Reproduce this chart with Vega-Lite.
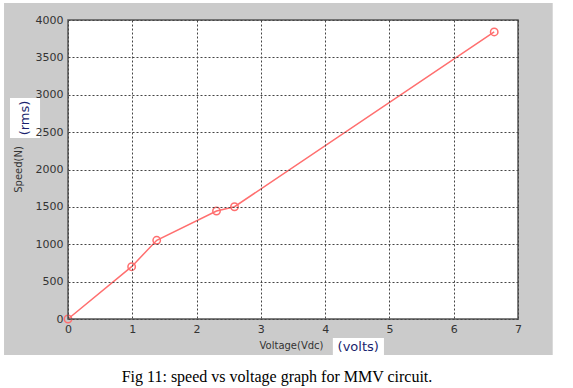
{
  "$schema": "https://vega.github.io/schema/vega-lite/v6.json",
  "width": 450,
  "height": 299,
  "autosize": {"type": "none"},
  "padding": {"left": 68, "top": 20, "right": 55, "bottom": 69},
  "background": "white",
  "title": {
    "text": "Fig 11: speed vs voltage graph for MMV circuit.",
    "orient": "bottom",
    "anchor": "middle",
    "font": "Liberation Serif",
    "fontSize": 16,
    "fontWeight": "normal",
    "color": "#000000",
    "offset": 14,
    "dx": -16
  },
  "config": {
    "view": {"stroke": null},
    "axis": {
      "ticks": false,
      "domain": false,
      "grid": true,
      "gridColor": "#444444",
      "gridDash": [2, 2],
      "gridWidth": 1,
      "gridOpacity": 1,
      "labelFont": "DejaVu Sans",
      "labelFontSize": 11,
      "labelColor": "#333333",
      "labelFlush": false,
      "labelOverlap": false,
      "titleFont": "DejaVu Sans",
      "titleFontSize": 10,
      "titleFontWeight": "normal",
      "titleColor": "#333333"
    }
  },
  "datasets": {
    "pts": [
      {"voltage": 0, "speed": 0},
      {"voltage": 0.99, "speed": 700},
      {"voltage": 1.38, "speed": 1053},
      {"voltage": 2.31, "speed": 1445},
      {"voltage": 2.59, "speed": 1502},
      {"voltage": 6.63, "speed": 3840}
    ]
  },
  "layer": [
    {
      "data": {"values": [{}]},
      "mark": {"type": "rect", "color": "#cbcbcb"},
      "encoding": {
        "x": {
          "datum": -0.995, "type": "quantitative",
          "scale": {"domain": [0, 7], "nice": false, "zero": false},
          "axis": {"zindex": 1, "title": "Voltage(Vdc)", "values": [0, 1, 2, 3, 4, 5, 6, 7], "tickCount": 20, "format": "d", "labelPadding": 4, "titleX": 223, "titleY": 26, "titleBaseline": "middle", "titleAlign": "center"}
        },
        "x2": {"datum": 7.54},
        "y": {
          "datum": 4227, "type": "quantitative",
          "scale": {"domain": [0, 4000], "nice": false, "zero": false},
          "axis": {"zindex": 1, "title": "Speed(N)", "values": [0, 500, 1000, 1500, 2000, 2500, 3000, 3500, 4000], "tickCount": 20, "format": "d", "labelPadding": 5, "titleX": -50, "titleY": 149, "titleAngle": 270, "titleBaseline": "middle", "titleAlign": "center"}
        },
        "y2": {"datum": -482}
      }
    },
    {
      "data": {"values": [{}]},
      "mark": {"type": "rect", "color": "#ffffff"},
      "encoding": {
        "x": {"datum": 0, "type": "quantitative"},
        "x2": {"datum": 7},
        "y": {"datum": 0, "type": "quantitative"},
        "y2": {"datum": 4000}
      }
    },
    {
      "data": {"values": [{}]},
      "mark": {"type": "rect", "color": "#ffffff"},
      "encoding": {
        "x": {"datum": -0.902, "type": "quantitative"},
        "x2": {"datum": -0.435},
        "y": {"datum": 2421, "type": "quantitative"},
        "y2": {"datum": 2957}
      }
    },
    {
      "data": {"values": [{}]},
      "mark": {"type": "rect", "color": "#ffffff"},
      "encoding": {
        "x": {"datum": 4.12, "type": "quantitative"},
        "x2": {"datum": 4.915},
        "y": {"datum": -254, "type": "quantitative"},
        "y2": {"datum": -482}
      }
    },
    {
      "data": {"values": [{"label": "(rms)"}]},
      "mark": {"type": "text", "angle": 270, "font": "DejaVu Sans", "fontSize": 13, "color": "#1a1f6e", "align": "center", "baseline": "middle"},
      "encoding": {
        "x": {"datum": -0.668, "type": "quantitative"},
        "y": {"datum": 2689, "type": "quantitative"},
        "text": {"field": "label"}
      }
    },
    {
      "data": {"values": [{"label": "(volts)"}]},
      "mark": {"type": "text", "font": "DejaVu Sans", "fontSize": 13, "color": "#1a1f6e", "align": "center", "baseline": "middle"},
      "encoding": {
        "x": {"datum": 4.515, "type": "quantitative"},
        "y": {"datum": -368, "type": "quantitative"},
        "text": {"field": "label"}
      }
    },
    {
      "data": {"name": "pts"},
      "mark": {"type": "line", "color": "#ff6f6f", "strokeWidth": 1.5, "point": {"filled": false, "size": 55, "strokeWidth": 1.5, "color": "#ff6f6f"}},
      "encoding": {
        "x": {"field": "voltage", "type": "quantitative", "title": "Voltage(Vdc)"},
        "y": {"field": "speed", "type": "quantitative", "title": "Speed(N)"}
      }
    },
    {
      "data": {"values": [{}]},
      "mark": {"type": "rect", "filled": false, "stroke": "#555555", "strokeWidth": 1.5},
      "encoding": {
        "x": {"datum": 0, "type": "quantitative"},
        "x2": {"datum": 7},
        "y": {"datum": 0, "type": "quantitative"},
        "y2": {"datum": 4000}
      }
    }
  ]
}
